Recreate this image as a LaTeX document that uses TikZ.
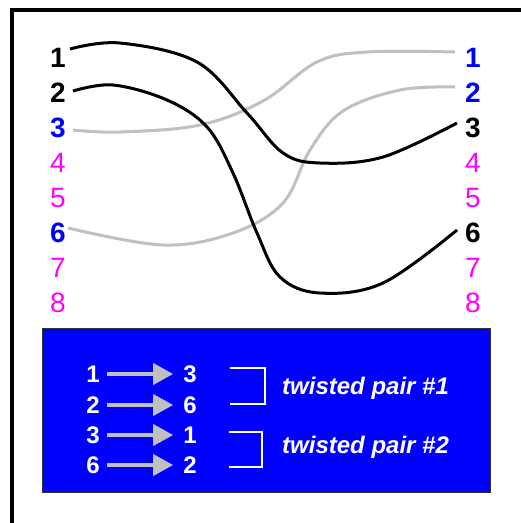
\documentclass[tikz,border=0pt]{standalone}
\usepackage{fontspec}
\setmainfont{Liberation Sans}
\usetikzlibrary{arrows.meta}
\definecolor{pblue}{RGB}{0,0,255}
\definecolor{pmag}{RGB}{255,0,255}
\definecolor{pgray}{RGB}{192,192,192}
\begin{document}
\begin{tikzpicture}[x=1pt,y=-1pt,
  lbl/.style={font=\fontsize{28}{28}\selectfont\bfseries, inner sep=2pt},
  lblk/.style={lbl, text=black},
  lblu/.style={lbl, text=pblue},
  lmag/.style={font=\fontsize{28}{28}\selectfont, inner sep=2pt, text=pmag},
  wire/.style={line width=3pt, black},
  gwire/.style={line width=3pt, pgray},
  bdig/.style={font=\fontsize{24}{24}\selectfont\bfseries, text=white, inner sep=2pt},
  barrow/.style={pgray, line width=4pt, -{Triangle[length=20pt,width=21pt]}, shorten <=5pt, shorten >=8pt},
  brack/.style={white, line width=1.6pt},
  tp/.style={font=\fontsize{24}{24}\selectfont\bfseries\itshape, text=white, inner sep=0pt, anchor=base west}]
\clip (0,0) rectangle (521,523);
\fill[white] (0,0) rectangle (521,523);
\draw[line width=4pt] (540,10) -- (12,10) -- (12,540);

% left labels
\node[lblk] (L1) at (58,58) {1};
\node[lblk] (L2) at (58,93) {2};
\node[lblu] (L3) at (58,128) {3};
\node[lmag] (L4) at (58,163) {4};
\node[lmag] (L5) at (58,198) {5};
\node[lblu] (L6) at (58,233) {6};
\node[lmag] (L7) at (58,268) {7};
\node[lmag] (L8) at (58,303) {8};
% right labels
\node[lblu] (R1) at (473,58) {1};
\node[lblu] (R2) at (473,93) {2};
\node[lblk] (R3) at (473,128) {3};
\node[lmag] (R4) at (473,163) {4};
\node[lmag] (R5) at (473,198) {5};
\node[lblk] (R6) at (473,233) {6};
\node[lmag] (R7) at (473,268) {7};
\node[lmag] (R8) at (473,303) {8};

% wire end points
\coordinate (a1) at (70,49);  \coordinate (b3) at (457,123);
\coordinate (a2) at (73,91);  \coordinate (b6) at (457,230);
\coordinate (a3) at (73,130); \coordinate (b1) at (455,52);
\coordinate (a6) at (68,228); \coordinate (b2) at (455,87);

% gray wires
\draw[gwire] plot[smooth, tension=0.6] coordinates {(a3) (120,132) (200,125) (263,101) (317,62) (367,52) (b1)};
\draw[gwire] plot[smooth, tension=0.6] coordinates {(a6) (163,245) (233,233) (283,203) (310,150) (343,111) (400,90) (b2)};
% black wires
\draw[wire] plot[smooth, tension=0.6] coordinates {(a1) (120,43) (197,62) (247,113) (283,153) (320,163) (383,157) (b3)};
\draw[wire] plot[smooth, tension=0.6] coordinates {(a2) (113,85) (167,100) (207,127) (233,173) (257,233) (280,277) (320,293) (383,283) (b6)};

% blue legend box
\node[fill=pblue, draw=black!80, line width=0.8pt, minimum width=448pt, minimum height=164pt, inner sep=0pt] (box) at (266,410) {};

\node[bdig] (p1) at (93,374) {1};
\node[bdig] (q1) at (190,374) {3};
\node[bdig] (p2) at (93,405) {2};
\node[bdig] (q2) at (190,405) {6};
\node[bdig] (p3) at (93,435) {3};
\node[bdig] (q3) at (190,435) {1};
\node[bdig] (p4) at (93,465) {6};
\node[bdig] (q4) at (190,465) {2};
\draw[barrow] (p1) -- (q1);
\draw[barrow] (p2) -- (q2);
\draw[barrow] (p3) -- (q3);
\draw[barrow] (p4) -- (q4);

\draw[brack] (230,368) -- (265,368) -- (265,404) -- (230,404);
\draw[brack] (229,432) -- (262,432) -- (262,467) -- (229,467);

\node[tp] (t1) at (282,394) {twisted pair \#1};
\node[tp] (t2) at (282,453) {twisted pair \#2};
\end{tikzpicture}
\end{document}
